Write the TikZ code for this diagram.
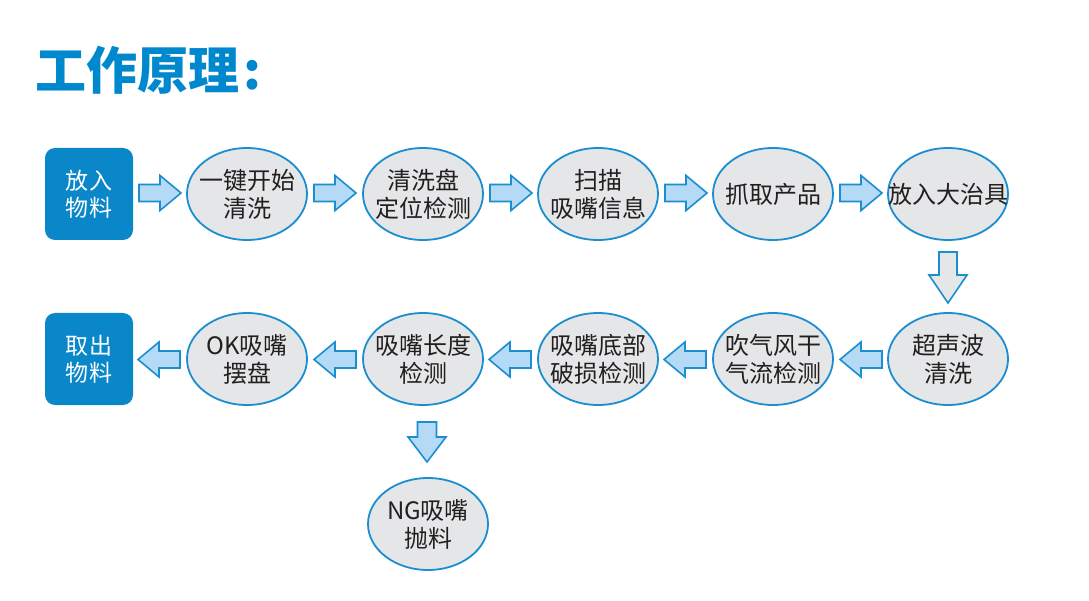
\documentclass[tikz,border=0pt]{standalone}
\usepackage{fontspec}
\setmainfont{Noto Sans CJK SC}
\usetikzlibrary{shapes.geometric}
\definecolor{titleblue}{HTML}{0088CE}
\definecolor{boxblue}{HTML}{0A87C9}
\definecolor{edgeblue}{HTML}{1A8ED0}
\definecolor{ellfill}{HTML}{E4E6E7}
\definecolor{arrfill}{HTML}{B4DAF6}
\definecolor{textdark}{HTML}{231F20}
\tikzset{
  stepell/.style={ellipse, draw=edgeblue, line width=1.8pt, fill=ellfill,
    minimum width=120pt, minimum height=92pt, inner xsep=-22pt, inner ysep=-12pt, align=center,
    text=textdark, font=\fontsize{24}{28}\selectfont},
  stepbox/.style={rectangle, rounded corners=10pt, fill=boxblue, draw=none,
    minimum width=88pt, minimum height=92pt, inner sep=0pt, align=center,
    text=white, font=\fontsize{23}{27}\selectfont},
  arrowshape/.style={draw=edgeblue, line width=1.6pt, fill=arrfill, line join=miter},
  pics/rarr/.style={code={
    \path[arrowshape] (-21,-8.5) -- (0,-8.5) -- (0,-17.5) -- (21,0) -- (0,17.5) -- (0,8.5) -- (-21,8.5) -- cycle;}},
  pics/larr/.style={code={
    \path[arrowshape] (21,-8.5) -- (0,-8.5) -- (0,-17.5) -- (-21,0) -- (0,17.5) -- (0,8.5) -- (21,8.5) -- cycle;}},
  pics/darr/.style n args={5}{code={
    % #1 top, #2 head base, #3 tip, #4 shaft half width, #5 head half width
    \path[arrowshape] (-#4,#1) -- (#4,#1) -- (#4,#2) -- (#5,#2) -- (0,#3) -- (-#5,#2) -- (-#4,#2) -- cycle;}},
}
\begin{document}
\begin{tikzpicture}[x=1pt,y=-1pt]
\useasboundingbox (0,0) rectangle (1089,601);
\node[anchor=west, inner sep=0pt, text=titleblue, font=\fontsize{51}{51}\selectfont\bfseries] (title) at (35,70) {工作原理\kern4pt:};
% row 1
\node[stepbox] (b1) at (89,194) {放\kern2pt 入\\物\kern2pt 料};
\node[stepell] (e1) at (247,194) {一键开始\\清洗};
\node[stepell] (e2) at (423,194) {清洗盘\\定位检测};
\node[stepell] (e3) at (598,194) {扫描\\吸嘴信息};
\node[stepell] (e4) at (773,194) {抓取产品};
\node[stepell] (e5) at (948,194) {放入大治具};
\pic (a1) at (160,193) {rarr};
\pic (a2) at (335,193) {rarr};
\pic (a3) at (511,193) {rarr};
\pic (a4) at (686,193) {rarr};
\pic (a5) at (861,193) {rarr};
% down arrow right
\pic[arrowshape/.append style={fill=ellfill}] (d1) at (948,277.5) {darr={-25.5}{-2.5}{25.5}{9}{19}};
% row 2
\node[stepbox] (b2) at (89,359) {取\kern2pt 出\\物\kern2pt 料};
\node[stepell] (f1) at (247,359) {OK吸嘴\\摆盘};
\node[stepell] (f2) at (423,359) {吸嘴长度\\检测};
\node[stepell] (f3) at (598,359) {吸嘴底部\\破损检测};
\node[stepell] (f4) at (773,359) {吹气风干\\气流检测};
\node[stepell] (f5) at (948,359) {超声波\\清洗};
\pic (l1) at (159,359.5) {larr};
\pic (l2) at (335,359.5) {larr};
\pic (l3) at (510,359.5) {larr};
\pic (l4) at (685,359.5) {larr};
\pic (l5) at (861,359.5) {larr};
% down arrow to NG
\pic (d2) at (427,442) {darr={-20}{-5}{20}{9.5}{19}};
\node[stepell] (g1) at (428,524) {NG吸嘴\\抛料};
\end{tikzpicture}
\end{document}
